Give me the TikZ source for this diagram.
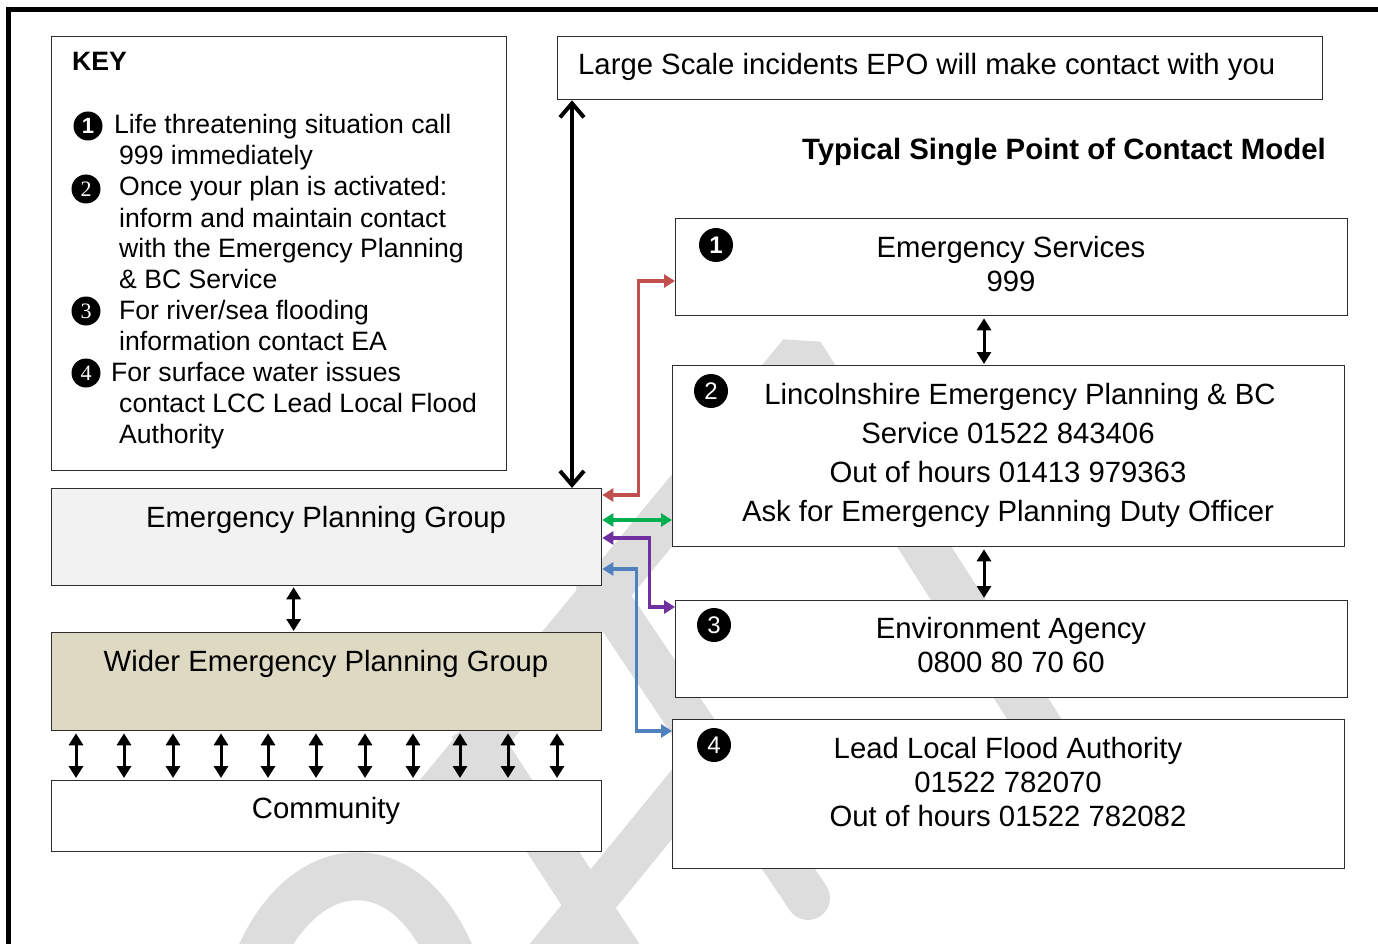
\documentclass[tikz,border=0pt]{standalone}
\usepackage{fontspec}
\setmainfont{Liberation Sans}
\newfontfamily\numserif{Liberation Serif}
\usetikzlibrary{arrows.meta}
\definecolor{wmgray}{RGB}{221,221,221}
\definecolor{epgfill}{RGB}{242,242,242}
\definecolor{wepgfill}{RGB}{221,217,195}
\definecolor{cred}{RGB}{192,80,77}
\definecolor{cgreen}{RGB}{0,176,80}
\definecolor{cpurple}{RGB}{112,48,160}
\definecolor{cblue}{RGB}{79,129,189}
\definecolor{boxline}{RGB}{45,45,45}
\begin{document}
\begin{tikzpicture}[x=1pt,y=-1pt,
  wmstroke/.style={draw=wmgray, line width=46pt},
  box/.style={draw=boxline, line width=1.3pt, fill=white, anchor=north west, inner sep=0pt},
  txt/.style={inner sep=0pt, anchor=base, font=\fontsize{29.3pt}{34pt}\selectfont},
  keytxt/.style={inner sep=0pt, anchor=base west, font=\fontsize{26.6pt}{31pt}\selectfont},
  mk/.style={circle, fill=black, inner sep=0pt, minimum size=34pt, text=white, font=\fontsize{24pt}{24pt}\selectfont},
  kmk/.style={circle, fill=black, inner sep=0pt, minimum size=29pt, text=white, font=\numserif\fontsize{22pt}{22pt}\selectfont},
  dbl/.style={line width=3pt, {Triangle[width=14pt,length=12pt]}-{Triangle[width=14pt,length=12pt]}},
  longarr/.style={line width=4pt, {Straight Barb[width=24pt,length=14pt]}-{Straight Barb[width=24pt,length=14pt]}},
  carr/.style={line width=3.5pt, {Triangle[width=13pt,length=11pt]}-{Triangle[width=13pt,length=11pt]}}]
\useasboundingbox (0,0) rectangle (1378,944);
\clip (0,0) rectangle (1378,944);
% watermark fragments (behind the boxes)
\draw[wmstroke, line join=bevel] (425,810) -- (801,354) -- (1072,778);
\draw[wmstroke, line width=44pt, line cap=round] (598,585) -- (808,898);
\draw[wmstroke, line width=44pt] (470,725) -- (640,985);
\draw[wmstroke, line width=44pt] (545,960) -- (700,770);
\draw[wmstroke, line width=48pt] (245,1000) .. controls (285,840) and (425,830) .. (465,1000);
% page frame
\draw[line width=5pt] (8.5,1000) -- (8.5,9.5) -- (1420,9.5);
% boxes
\node[box, minimum width=455pt, minimum height=434pt] (key) at (51,36) {};
\node[box, minimum width=765pt, minimum height=63pt] (top) at (557,36) {};
\node[box, minimum width=672pt, minimum height=97pt] (es) at (675,218) {};
\node[box, minimum width=672pt, minimum height=181pt] (lep) at (672,365) {};
\node[box, minimum width=672pt, minimum height=97pt] (ea) at (675,600) {};
\node[box, minimum width=672pt, minimum height=149pt] (llfa) at (672,719) {};
\node[box, fill=epgfill, minimum width=550pt, minimum height=97pt] (epg) at (51,488) {};
\node[box, fill=wepgfill, minimum width=550pt, minimum height=98pt] (wepg) at (51,632) {};
\node[box, minimum width=550pt, minimum height=71pt] (comm) at (51,780) {};
% KEY text
\node[keytxt, font=\bfseries\fontsize{26.6pt}{31pt}\selectfont] (keyt) at (72,71) {KEY};
\node[kmk, font=\bfseries\fontsize{22pt}{22pt}\selectfont] (k1) at (88,126) {1};
\node[keytxt] (k1a) at (114,134) {Life threatening situation call};
\node[keytxt] (k1b) at (119,165) {999 immediately};
\node[kmk] (k2) at (86,189) {2};
\node[keytxt] (k2a) at (119,196) {Once your plan is activated:};
\node[keytxt] (k2b) at (119,227) {inform and maintain contact};
\node[keytxt] (k2c) at (119,257) {with the Emergency Planning};
\node[keytxt] (k2d) at (119,288) {\& BC Service};
\node[kmk] (k3) at (86,311) {3};
\node[keytxt] (k3a) at (119,319) {For river/sea flooding};
\node[keytxt] (k3b) at (119,350) {information contact EA};
\node[kmk] (k4) at (86,373) {4};
\node[keytxt] (k4a) at (111,381) {For surface water issues};
\node[keytxt] (k4b) at (119,412) {contact LCC Lead Local Flood};
\node[keytxt] (k4c) at (119,443) {Authority};
% top text and title
\node[txt, anchor=base west] (topt) at (578,75) {Large Scale incidents EPO will make contact with you};
\node[txt, anchor=base east, font=\bfseries\fontsize{29.4pt}{34pt}\selectfont] (title) at (1326,160) {Typical Single Point of Contact Model};
% box 1
\node[mk] (m1) at (716,245) {\bfseries 1};
\node[txt] (es1) at (1011,257) {Emergency Services};
\node[txt] (es2) at (1011,291) {999};
% box 2
\node[mk] (m2) at (711,391) {2};
\node[txt] (lep1) at (1020,404) {Lincolnshire Emergency Planning \& BC};
\node[txt] (lep2) at (1008,443) {Service 01522 843406};
\node[txt] (lep3) at (1008,482) {Out of hours 01413 979363};
\node[txt] (lep4) at (1008,521) {Ask for Emergency Planning Duty Officer};
% box 3
\node[mk] (m3) at (714,625) {3};
\node[txt] (ea1) at (1011,638) {Environment Agency};
\node[txt] (ea2) at (1011,672) {0800 80 70 60};
% box 4
\node[mk] (m4) at (714,745) {4};
\node[txt] (ll1) at (1008,758) {Lead Local Flood Authority};
\node[txt] (ll2) at (1008,792) {01522 782070};
\node[txt] (ll3) at (1008,826) {Out of hours 01522 782082};
% left group texts
\node[txt] (epgt) at (326,527) {Emergency Planning Group};
\node[txt] (wepgt) at (326,671) {Wider Emergency Planning Group};
\node[txt] (commt) at (326,818) {Community};
% black connectors
\draw[longarr] ([xshift=15pt]top.south west) -- ([xshift=15pt]top.south west |- epg.north);
\draw[dbl, shorten <=1pt, shorten >=1pt] ([xshift=-33pt]epg.south) -- ([xshift=-33pt]wepg.north);
\foreach \dx in {25,73,122,170,217,265,314,362,409,457,506}
  \draw[dbl, shorten <=2pt, shorten >=2pt] ([xshift=\dx pt]wepg.south west) -- ([xshift=\dx pt]comm.north west);
\draw[dbl, shorten <=2pt, shorten >=1pt] ([xshift=309pt]es.south west) -- ([xshift=309pt]es.south west |- lep.north);
\draw[dbl, shorten <=2pt, shorten >=2pt] ([xshift=312pt]lep.south west) -- ([xshift=312pt]lep.south west |- ea.north);
% coloured connectors
\draw[carr, cred] ([yshift=-7pt]epg.north east) -- ++(36,0) |- ([yshift=-63pt]es.north west);
\draw[carr, cgreen] ([yshift=-32pt]epg.north east) -- ([yshift=-32pt]epg.north east -| lep.west);
\draw[carr, cpurple] ([yshift=-50pt]epg.north east) -- ++(47,0) |- ([yshift=-7pt]ea.north west);
\draw[carr, cblue] ([yshift=-81pt]epg.north east) -- ++(34,0) |- ([yshift=-12pt]llfa.north west);
\end{tikzpicture}
\end{document}
